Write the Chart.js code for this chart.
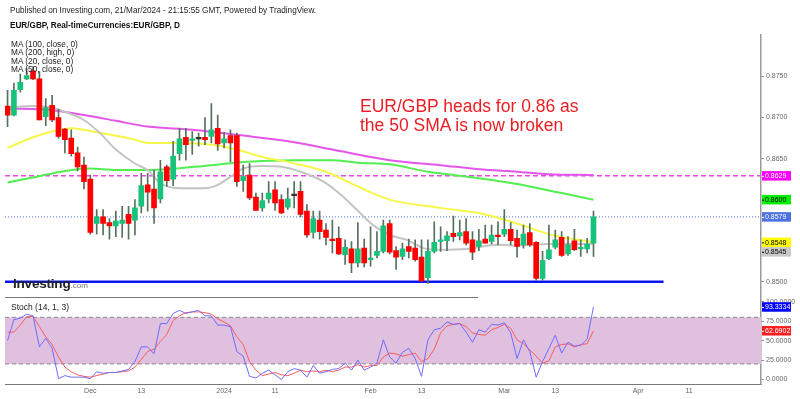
<!DOCTYPE html>
<html>
<head>
<meta charset="utf-8">
<script src="https://cdn.jsdelivr.net/npm/chart.js@4.4.1/dist/chart.umd.min.js"></script>
<style>
  body { margin: 0; background: #fff; }
  #wrap { position: relative; width: 800px; height: 399px; overflow: hidden; font-family: "Liberation Sans", Arial, sans-serif; }
  canvas { position: absolute; left: 0; }
  #main { top: 0; }
  #stoch { top: 290px; }
  .t { position: absolute; white-space: nowrap; }
</style>
</head>
<body>
<div id="wrap">
  <canvas id="stoch" width="800" height="109"></canvas>
  <canvas id="main" width="800" height="304"></canvas>
  <div class="t" style="left:10px;top:5.5px;font-size:8.2px;color:#222">Published on Investing.com, 21/Mar/2024 - 21:15:55 GMT, Powered by TradingView.</div>
  <div class="t" style="left:10px;top:20.5px;font-size:8.2px;font-weight:bold;color:#111">EUR/GBP, Real-timeCurrencies:EUR/GBP, D</div>
  <div class="t" style="left:11px;top:40px;font-size:8.3px;line-height:8.4px;color:#222">MA (100, close, 0)<br>MA (200, high, 0)<br>MA (20, close, 0)<br>MA (50, close, 0)</div>
  <div class="t" style="left:360px;top:97px;font-size:17.5px;line-height:18.7px;color:#ee1d23">EUR/GBP heads for 0.86 as<br>the 50 SMA is now broken</div>
  <div class="t" style="left:13px;top:276px;font-size:13.5px;font-weight:bold;color:#222;letter-spacing:-0.2px">Investing<span style="font-size:8px;font-weight:normal;color:#777;letter-spacing:0">.com</span></div>
  <div style="position:absolute;left:5px;top:297px;width:473px;height:1px;background:#777"></div>
  <div class="t" style="left:11px;top:302px;font-size:8.5px;color:#222">Stoch (14, 1, 3)</div>
</div>
<script>
// daily candles, 14 Nov 2023 .. 21 Mar 2024 (index = trading day)
const open  = [0.8714,0.8703,0.8734,0.8747,0.8757,0.8747,0.8701,0.8715,0.8700,0.8686,0.8675,0.8657,0.8642,0.8625,0.8571,0.8579,0.8572,0.8568,0.8571,0.8582,0.8575,0.8592,0.8618,0.8613,0.8601,0.8640,0.8625,0.8656,0.8676,0.8672,0.8674,0.8676,0.8677,0.8687,0.8669,0.8678,0.8678,0.8623,0.8630,0.8603,0.8590,0.8601,0.8612,0.8600,0.8591,0.8605,0.8610,0.8586,0.8560,0.8575,0.8563,0.8552,0.8553,0.8533,0.8540,0.8523,0.8541,0.8527,0.8532,0.8537,0.8571,0.8538,0.8531,0.8543,0.8541,0.8530,0.8505,0.8537,0.8549,0.8550,0.8559,0.8556,0.8561,0.8551,0.8543,0.8552,0.8549,0.8557,0.8558,0.8564,0.8553,0.8545,0.8560,0.8548,0.8504,0.8528,0.8542,0.8554,0.8534,0.8550,0.8540,0.8540,0.8547];
const high  = [0.8733,0.8742,0.8753,0.8760,0.8762,0.8756,0.8723,0.8727,0.8710,0.8687,0.8685,0.8664,0.8652,0.8630,0.8588,0.8588,0.8577,0.8586,0.8592,0.8592,0.8600,0.8632,0.8632,0.8636,0.8648,0.8642,0.8671,0.8687,0.8687,0.8683,0.8681,0.8700,0.8717,0.8703,0.8682,0.8685,0.8681,0.8642,0.8644,0.8608,0.8608,0.8622,0.8622,0.8606,0.8614,0.8622,0.8622,0.8594,0.8586,0.8586,0.8571,0.8575,0.8567,0.8551,0.8549,0.8572,0.8552,0.8567,0.8561,0.8575,0.8575,0.8543,0.8547,0.8552,0.8551,0.8551,0.8551,0.8573,0.8567,0.8561,0.8580,0.8575,0.8577,0.8561,0.8564,0.8569,0.8569,0.8573,0.8588,0.8572,0.8563,0.8569,0.8571,0.8549,0.8537,0.8569,0.8563,0.8561,0.8555,0.8564,0.8551,0.8553,0.8586];
const low   = [0.8689,0.8702,0.8731,0.8746,0.8746,0.8697,0.8690,0.8695,0.8675,0.8657,0.8653,0.8635,0.8613,0.8558,0.8558,0.8557,0.8552,0.8555,0.8554,0.8552,0.8557,0.8584,0.8586,0.8571,0.8596,0.8616,0.8617,0.8648,0.8648,0.8655,0.8665,0.8667,0.8669,0.8660,0.8663,0.8646,0.8616,0.8610,0.8600,0.8587,0.8586,0.8596,0.8587,0.8583,0.8588,0.8590,0.8579,0.8554,0.8553,0.8552,0.8545,0.8535,0.8533,0.8521,0.8511,0.8518,0.8518,0.8519,0.8529,0.8535,0.8534,0.8515,0.8527,0.8529,0.8525,0.8500,0.8498,0.8535,0.8537,0.8538,0.8549,0.8551,0.8545,0.8527,0.8538,0.8547,0.8546,0.8545,0.8555,0.8545,0.8530,0.8541,0.8543,0.8502,0.8502,0.8527,0.8540,0.8531,0.8532,0.8538,0.8531,0.8535,0.8531];
const close = [0.8703,0.8733,0.8743,0.8751,0.8747,0.8697,0.8712,0.8697,0.8677,0.8673,0.8656,0.8640,0.8622,0.8560,0.8579,0.8571,0.8568,0.8574,0.8575,0.8571,0.8590,0.8617,0.8609,0.8590,0.8634,0.8623,0.8653,0.8674,0.8667,0.8674,0.8674,0.8673,0.8685,0.8668,0.8674,0.8669,0.8622,0.8628,0.8602,0.8587,0.8599,0.8608,0.8596,0.8584,0.8601,0.8605,0.8582,0.8557,0.8577,0.8561,0.8554,0.8550,0.8534,0.8542,0.8523,0.8540,0.8523,0.8529,0.8537,0.8568,0.8536,0.8530,0.8540,0.8537,0.8527,0.8501,0.8537,0.8548,0.8551,0.8556,0.8555,0.8560,0.8547,0.8536,0.8550,0.8547,0.8557,0.8555,0.8564,0.8550,0.8543,0.8558,0.8545,0.8504,0.8526,0.8539,0.8551,0.8532,0.8545,0.8539,0.8541,0.8546,0.8579];

// moving averages at these day positions
const ma200Idx = [0,7,12,17,22,29,37,45,51,60,68,74,80,85,92];
const ma200    = [0.8711,0.8709,0.8703,0.8696,0.8689,0.8685,0.8678,0.8670,0.8661,0.8648,0.8642,0.8637,0.8634,0.8631,0.8630];
const ma100Idx = [0,4,9,13,17,22,32,37,45,51,55,60,66,70,74,80,87,92];
const ma100    = [0.8621,0.8627,0.8635,0.8638,0.8636,0.8636,0.8642,0.8646,0.8648,0.8648,0.8645,0.8643,0.8634,0.8630,0.8626,0.8619,0.8608,0.8600];
const ma50Idx  = [0,4,7,10,14,20,22,27,32,36,40,44,50,55,60,68,75,80,83,86,92];
const ma50     = [0.8663,0.8676,0.8683,0.8687,0.8682,0.8673,0.8669,0.8669,0.8667,0.8661,0.8652,0.8646,0.8634,0.8616,0.8600,0.8590,0.8582,0.8571,0.8563,0.8556,0.8548];
const ma20Idx  = [0,4,7,9,12,14.5,17,20,22,24,27,31,33,35,37,40,43,46,49.6,52.2,54.8,57.4,60,62.7,65.3,68,72,77,80,85,92];
const ma20     = [0.8712,0.8714,0.8712,0.8707,0.8697,0.8681,0.8661,0.8644,0.8636,0.8620,0.8614,0.8614,0.8618,0.8628,0.8638,0.8641,0.8640,0.8634,0.8622,0.8607,0.8588,0.8569,0.8557,0.8551,0.8541,0.8539,0.8540,0.8545,0.8544,0.8546,0.8546];

// horizontal levels
const dashLevel = 0.8629;
const lastLevel = 0.8579;
const supportLevel = 0.8500;
const supportEnd = 103;

// right-hand price tags
const tagValues = [0.8629, 0.8600, 0.8579, 0.8548, 0.8545];
const tagBg     = ['#ff00ff', '#00f000', '#4c72e0', '#ffff00', '#c8c8c8'];
const tagFg     = ['#fff', '#000', '#fff', '#000', '#000'];
const priceTicks = [0.8500, 0.8650, 0.8700, 0.8750];

// stochastic (14,1,3)
const stochK = [50,77,79,84,82,42,53,40,1,5,3,3,3,1,10,8,9,9,11,13,23,42,42,33,72,72,85,89,85,87,89,82,82,70,70,68,36,30,4,2,8,12,6,0,10,14,12,3,18,8,10,13,14,21,12,25,12,16,21,51,29,21,35,40,27,4,51,64,66,74,71,72,61,48,64,61,71,70,73,60,27,51,36,3,23,40,57,34,48,43,44,52,93.3334];
const stochD = [61,61,70,81,81,68,55,45,29,16,10,6,4,3,5,7,9,9,10,11,16,26,36,39,49,58,76,82,86,87,87,86,84,78,74,69,55,45,23,12,5,7,9,6,5,8,12,10,11,10,12,10,12,16,16,19,16,18,18,29,34,33,30,32,34,23,27,39,60,69,71,72,68,60,58,57,64,67,71,66,51,46,38,30,21,24,42,45,46,42,45,46,62.6902];
const stochTicks = [0, 25, 50, 75, 100];
const stochBand = [20, 80];
const stochTagValues = [93.3334, 62.6902];
const stochTagBg = ['#0000ff', '#ff1e1e'];

// time axis
const tickIdx    = [13, 21, 34, 42, 57, 65, 78, 86, 99, 107];
const tickLabels = ['Dec', '13', '2024', '11', 'Feb', '13', 'Mar', '13', 'Apr', '11'];

const xMin = -0.4, xMax = 118.3;
const upColor = '#17c27a', downColor = '#ff0000', dojiColor = '#333333', wickColor = '#56705c';

const bodies = open.map((o, i) => ({ x: i, y: [o, close[i]] }));
const wicks = open.map((o, i) => ({ x: i, y: [low[i], high[i]] }));
const bodyColors = open.map((o, i) => close[i] > o ? upColor : (close[i] < o ? downColor : dojiColor));

function pts(idx, vals) { return idx.map((x, i) => ({ x: x, y: vals[i] })); }
function lineSet(data, color, width, dash) {
  return { type: 'line', data: data, borderColor: color, borderWidth: width, borderDash: dash || [],
           pointRadius: 0, cubicInterpolationMode: 'monotone', order: 5 };
}

function drawTags(chart, scale, values, bgs, fgs) {
  const ctx = chart.ctx;
  const items = values.map((v, i) => ({ v: v, y: scale.getPixelForValue(v), bg: bgs[i], fg: fgs[i] }))
                      .sort((a, b) => a.y - b.y);
  const h = 9.5;
  let prev = -1e9;
  ctx.save();
  ctx.font = '7px "Liberation Sans", Arial, sans-serif';
  ctx.textBaseline = 'middle';
  items.forEach(it => {
    let y = it.y;
    if (y - h / 2 < prev) y = prev + h / 2;
    ctx.fillStyle = it.bg;
    ctx.fillRect(scale.left + 1, y - h / 2, 29, h);
    ctx.fillStyle = it.fg;
    ctx.fillRect(scale.left + 1, y, 2, 1);
    ctx.fillText(it.v.toFixed(4), scale.left + 4, y + 0.5);
    prev = y + h / 2;
  });
  ctx.restore();
}

const priceTags = {
  id: 'priceTags',
  afterDraw(chart) { drawTags(chart, chart.scales.y, tagValues, tagBg, tagFg); }
};
const stochTags = {
  id: 'stochTags',
  afterDraw(chart) { drawTags(chart, chart.scales.y, stochTagValues, stochTagBg, ['#fff', '#fff']); }
};

new Chart(document.getElementById('main'), {
  type: 'bar',
  data: {
    datasets: [
      { type: 'bar', data: wicks, backgroundColor: wickColor, barThickness: 1, grouped: false, order: 2 },
      { type: 'bar', data: bodies, backgroundColor: bodyColors, barThickness: 5, minBarLength: 1.5, grouped: false, order: 1 },
      lineSet(pts(ma20Idx, ma20), '#c4c4c4', 2),
      lineSet(pts(ma50Idx, ma50), '#f7f74a', 2),
      lineSet(pts(ma100Idx, ma100), '#52ee52', 2),
      lineSet(pts(ma200Idx, ma200), '#e455ea', 2),
      lineSet([{ x: xMin, y: dashLevel }, { x: xMax, y: dashLevel }], '#ee44ee', 1.5, [5, 3]),
      lineSet([{ x: xMin, y: lastLevel }, { x: xMax, y: lastLevel }], '#4a6ee0', 1, [1, 2]),
      lineSet([{ x: xMin, y: supportLevel }, { x: supportEnd, y: supportLevel }], '#0a14f0', 2.5)
    ]
  },
  options: {
    responsive: false,
    animation: false,
    layout: { padding: { left: 5, top: 35, right: 0, bottom: 6 } },
    plugins: { legend: { display: false }, tooltip: { enabled: false } },
    scales: {
      x: { type: 'linear', min: xMin, max: xMax, offset: false, display: false },
      y: {
        position: 'right', min: 0.84805, max: 0.88005,
        afterFit(s) { s.width = 39; },
        afterBuildTicks(s) { s.ticks = priceTicks.map(v => ({ value: v })); },
        ticks: { callback: v => Number(v).toFixed(4), font: { size: 7 }, color: '#666', padding: 2 },
        grid: { drawOnChartArea: false, tickLength: 3, color: '#888' },
        border: { color: '#9a9a9a', width: 1.5 }
      }
    }
  },
  plugins: [priceTags]
});

new Chart(document.getElementById('stoch'), {
  type: 'line',
  data: {
    datasets: [
      { data: [{ x: xMin, y: stochBand[1] }, { x: xMax, y: stochBand[1] }], borderColor: '#8a8a8a', borderWidth: 1,
        borderDash: [4, 3], pointRadius: 0, fill: '+1', backgroundColor: '#dfc1df', order: 5 },
      { data: [{ x: xMin, y: stochBand[0] }, { x: xMax, y: stochBand[0] }], borderColor: '#8a8a8a', borderWidth: 1,
        borderDash: [4, 3], pointRadius: 0, order: 4 },
      { data: stochD.map((v, i) => ({ x: i, y: v })), borderColor: '#ff5b5b', borderWidth: 1, pointRadius: 0, order: 2 },
      { data: stochK.map((v, i) => ({ x: i, y: v })), borderColor: '#6f6cff', borderWidth: 1, pointRadius: 0, order: 1 }
    ]
  },
  options: {
    responsive: false,
    animation: false,
    layout: { padding: { left: 5, top: 9, right: 0, bottom: 0 } },
    plugins: { legend: { display: false }, tooltip: { enabled: false } },
    scales: {
      x: {
        type: 'linear', min: xMin, max: xMax, offset: false,
        afterFit(s) { s.height = 15; },
        afterBuildTicks(s) { s.ticks = tickIdx.map(v => ({ value: v })); },
        ticks: { autoSkip: false, maxRotation: 0, font: { size: 7 }, color: '#666', padding: 3,
                 callback: (v, i) => tickLabels[i] },
        grid: { display: false, drawTicks: false, tickLength: 0 },
        border: { color: '#777', width: 1 }
      },
      y: {
        position: 'right', min: -5.8, max: 103.6,
        afterFit(s) { s.width = 39; },
        afterBuildTicks(s) { s.ticks = stochTicks.map(v => ({ value: v })); },
        ticks: { callback: v => Number(v).toFixed(4), font: { size: 7 }, color: '#666', padding: 2 },
        grid: { drawOnChartArea: false, tickLength: 3, color: '#888' },
        border: { color: '#9a9a9a', width: 1.5 }
      }
    }
  },
  plugins: [stochTags]
});
</script>
</body>
</html>
